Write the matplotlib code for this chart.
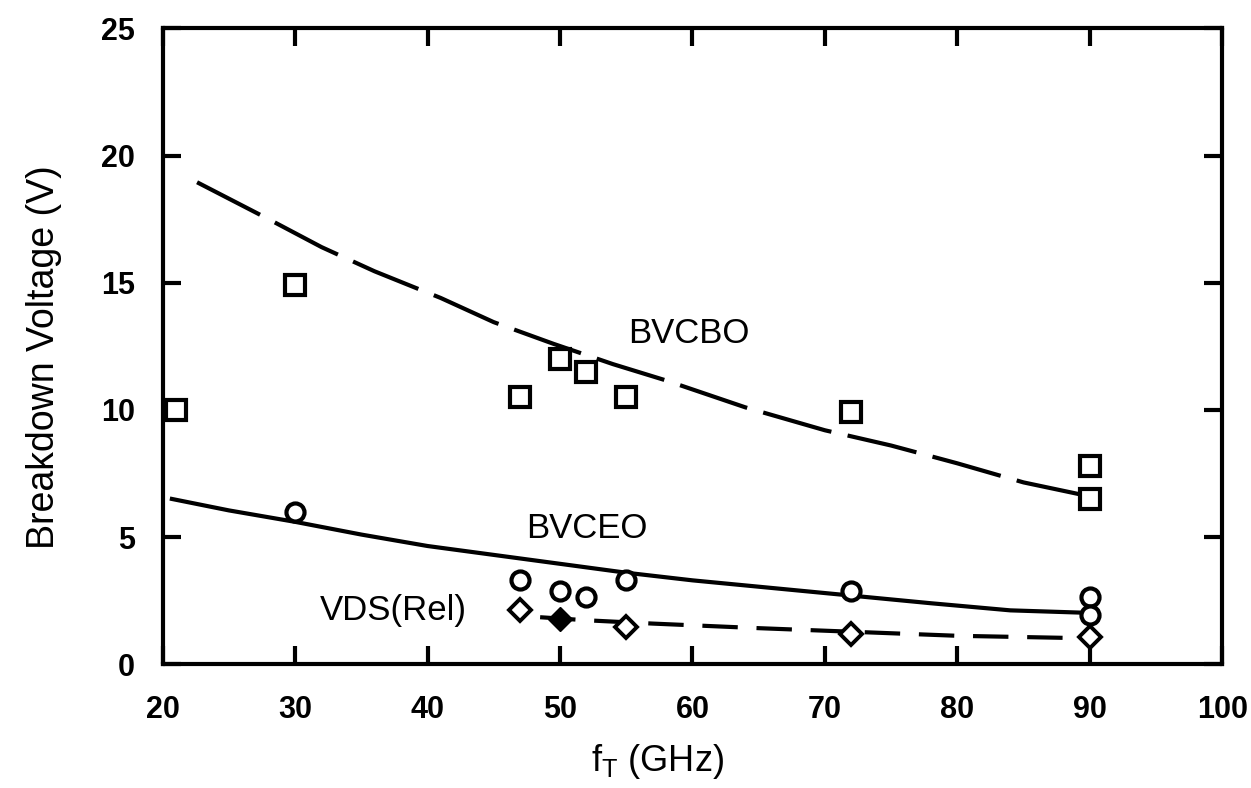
import numpy as np
import matplotlib
matplotlib.use("Agg")
import matplotlib.pyplot as plt

plt.rcParams['font.family'] = ['Liberation Sans', 'DejaVu Sans']
plt.rcParams['mathtext.fontset'] = 'custom'
plt.rcParams['mathtext.rm'] = 'Liberation Sans'

# Datos medidos
bvcbo_x = [21, 30, 47, 50, 52, 55, 72, 90, 90]
bvcbo_y = [10.0, 14.9, 10.5, 12.0, 11.5, 10.5, 9.9, 7.8, 6.5]

bvceo_x = [30, 47, 50, 52, 55, 72, 90, 90]
bvceo_y = [6.0, 3.3, 2.9, 2.65, 3.3, 2.9, 2.65, 1.95]

vds_x = [47, 55, 72, 90]
vds_y = [2.15, 1.45, 1.2, 1.06]
vds_fill_x = [50]
vds_fill_y = [1.78]

# Curvas de tendencia
fit_cbo_x = [22.6, 28, 32, 36, 41, 45, 49.5, 54, 58, 64, 70, 75, 80, 85, 90]
fit_cbo_y = [18.95, 17.5, 16.4, 15.45, 14.4, 13.45, 12.6, 11.8, 11.16, 10.1,
             9.2, 8.6, 7.9, 7.15, 6.6]

fit_ceo_x = [20.7, 25, 30, 35, 40, 45, 50, 55, 60, 65, 72, 78, 84, 90]
fit_ceo_y = [6.5, 6.05, 5.6, 5.1, 4.65, 4.3, 3.95, 3.6, 3.3, 3.05, 2.7, 2.4,
             2.12, 2.02]

fit_vds_x = [48.5, 52, 57, 65, 72, 80, 90]
fit_vds_y = [1.85, 1.73, 1.6, 1.42, 1.28, 1.12, 1.02]

fig = plt.figure(figsize=(12.51, 7.88), dpi=100)
ax = fig.add_axes([0.130, 0.157, 0.847, 0.807])

ax.plot(fit_cbo_x, fit_cbo_y, color='black', lw=3, dashes=(17, 4))
ax.plot(fit_ceo_x, fit_ceo_y, color='black', lw=3)
ax.plot(fit_vds_x, fit_vds_y, color='black', lw=3, dashes=(8.5, 4.5))

ax.plot(bvcbo_x, bvcbo_y, 's', ms=14, mfc='white', mec='black', mew=3,
        clip_on=False)
ax.plot(bvceo_x, bvceo_y, 'o', ms=13, mfc='white', mec='black', mew=3)
ax.plot(vds_x, vds_y, 'D', ms=11, mfc='white', mec='black', mew=2.8)
ax.plot(vds_fill_x, vds_fill_y, 'D', ms=12, mfc='black', mec='black')

ax.text(59.7, 13.0, 'BVCBO', fontsize=25, ha='center', va='center')
ax.text(52.0, 5.35, 'BVCEO', fontsize=25, ha='center', va='center')
ax.text(37.4, 2.1, 'VDS(Rel)', fontsize=25, ha='center', va='center')

ax.set_xlim(20, 100)
ax.set_ylim(0, 25)
ax.set_xticks(np.arange(20, 101, 10))
ax.set_yticks(np.arange(0, 26, 5))
ax.tick_params(direction='in', length=13, width=3, top=True, right=True,
               labelsize=22)
ax.tick_params(axis='x', pad=22)
ax.tick_params(axis='y', pad=20)
for lbl in ax.get_xticklabels() + ax.get_yticklabels():
    lbl.set_fontweight('bold')
for s in ax.spines.values():
    s.set_linewidth(3)

ax.set_xlabel(r'f$_\mathregular{T}$ (GHz)', fontsize=26)
ax.set_ylabel('Breakdown Voltage (V)', fontsize=27)
ax.xaxis.set_label_coords(0.467, -0.122)
ax.yaxis.set_label_coords(-0.095, 0.483)

fig.savefig('out.png', dpi=100)
